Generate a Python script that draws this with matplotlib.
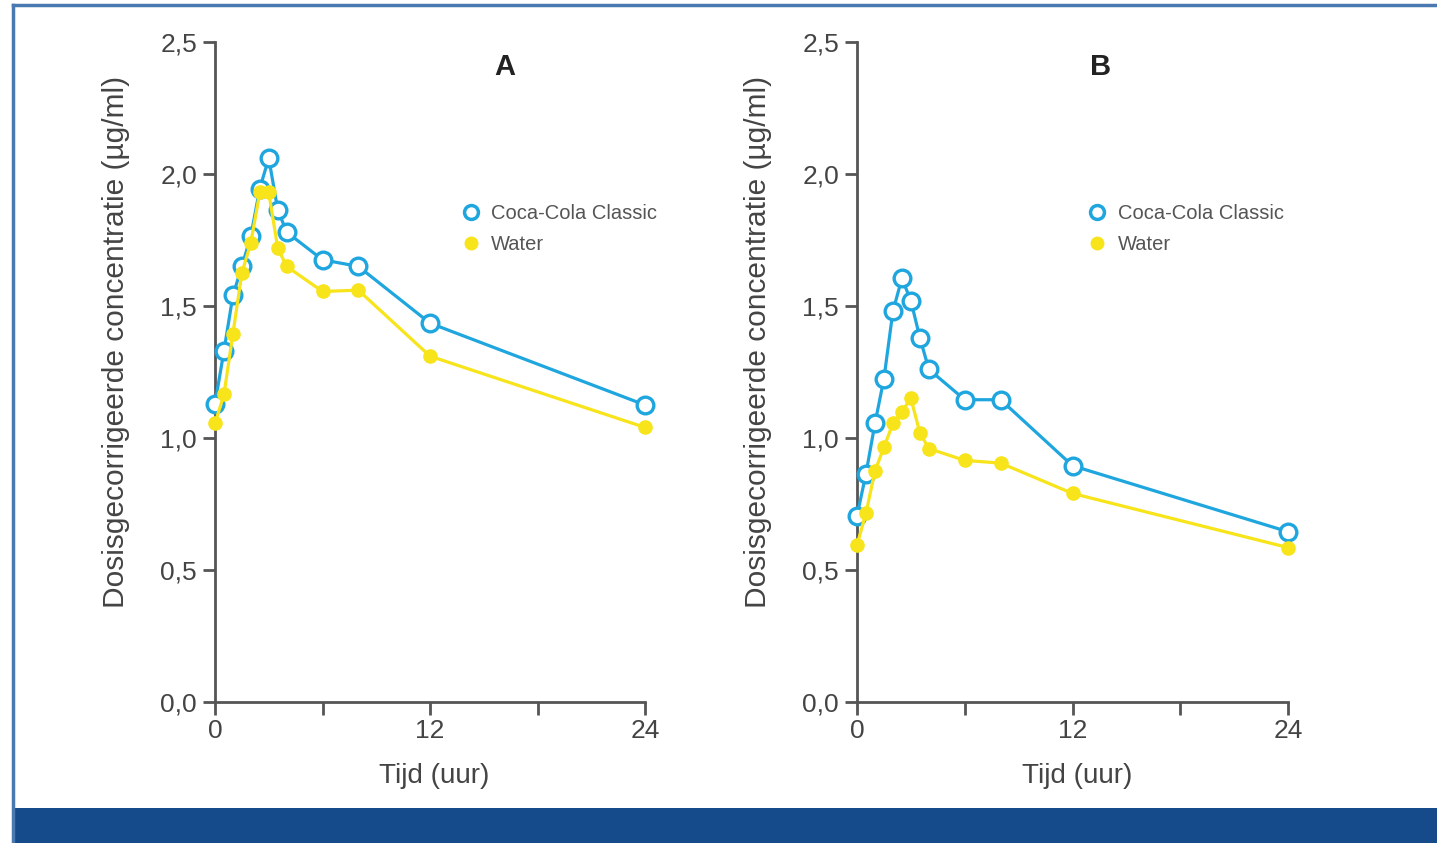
import numpy as np
import matplotlib.pyplot as plt
from matplotlib.patches import Rectangle
from matplotlib.lines import Line2D

plt.rcParams['font.family'] = ['Liberation Sans', 'DejaVu Sans']

# tijdstippen (uur)
tijd = [0, 0.5, 1, 1.5, 2, 2.5, 3, 3.5, 4, 6, 8, 12, 24]

# paneel A
cola_a = [1.13, 1.33, 1.54, 1.65, 1.765, 1.945, 2.06, 1.865, 1.78, 1.675, 1.65, 1.435, 1.125]
water_a = [1.055, 1.165, 1.395, 1.625, 1.74, 1.93, 1.93, 1.72, 1.65, 1.555, 1.56, 1.31, 1.04]

# paneel B
cola_b = [0.705, 0.865, 1.055, 1.225, 1.48, 1.605, 1.52, 1.38, 1.26, 1.145, 1.145, 0.895, 0.645]
water_b = [0.595, 0.715, 0.875, 0.965, 1.055, 1.1, 1.15, 1.02, 0.96, 0.915, 0.905, 0.79, 0.585]

yticks = [0, 0.5, 1.0, 1.5, 2.0, 2.5]
ytick_labels = ['0,0', '0,5', '1,0', '1,5', '2,0', '2,5']
xticks = [0, 6, 12, 18, 24]
xtick_labels = ['0', '', '12', '', '24']

blauw = '#1fa6de'
geel = '#f7e41a'
as_kleur = '#555555'
tekst = '#444444'

fig = plt.figure(figsize=(14.37, 8.43), dpi=100)

# kader
fig.add_artist(Line2D([13/1437, 1], [1 - 5/843, 1 - 5/843], color='#4a78b0', lw=2.5))
fig.add_artist(Line2D([13/1437, 13/1437], [0, 1 - 5/843], color='#4a78b0', lw=2.5))
fig.add_artist(Rectangle((13/1437, 0), 1, 35/843, color='#154b8a', lw=0))

leg_handles = [
    Line2D([], [], ls='none', marker='o', ms=10, mfc='white', mec=blauw, mew=2.5),
    Line2D([], [], ls='none', marker='o', ms=9, mfc=geel, mec=geel),
]


def paneel(ax, cola, water, titel, titel_x, leg_pos):
    ax.plot(tijd, cola, color=blauw, lw=2.3, marker='o', ms=12, mfc='white',
            mec=blauw, mew=2.4, clip_on=False, zorder=3)
    ax.plot(tijd, water, color=geel, lw=2.3, marker='o', ms=9.5, mfc=geel,
            mec=geel, clip_on=False, zorder=4)
    ax.set_xlim(0, 24)
    ax.set_ylim(0, 2.5)
    ax.set_xticks(xticks)
    ax.set_xticklabels(xtick_labels)
    ax.set_yticks(yticks)
    ax.set_yticklabels(ytick_labels)
    for s in ['top', 'right']:
        ax.spines[s].set_visible(False)
    for s in ['left', 'bottom']:
        ax.spines[s].set_color(as_kleur)
        ax.spines[s].set_linewidth(2)
    ax.tick_params(colors=as_kleur, labelcolor=tekst, width=2, length=9,
                   labelsize=19)
    ax.tick_params(axis='x', pad=3)
    ax.tick_params(axis='y', pad=4)
    ax.set_xlabel('Tijd (uur)', fontsize=20, color=tekst)
    ax.xaxis.set_label_coords(0.51, -0.093)
    ax.set_ylabel('Dosisgecorrigeerde concentratie (µg/ml)', fontsize=21.5,
                  color=tekst)
    ax.yaxis.set_label_coords(-0.197, 0.545)
    ax.text(titel_x, 0.962, titel, transform=ax.transAxes, fontsize=21,
            fontweight='bold', ha='center', va='center', color='#222222')
    ax.legend(leg_handles, ['Coca-Cola Classic', 'Water'], loc='upper left',
              bbox_to_anchor=leg_pos, frameon=False, fontsize=14.5,
              labelcolor='#555555', handlelength=0.8, handletextpad=0.6,
              labelspacing=0.62)


ax_a = fig.add_axes([215/1437, 1 - 702/843, 430/1437, 660/843])
ax_b = fig.add_axes([857/1437, 1 - 702/843, 431/1437, 660/843])
paneel(ax_a, cola_a, water_a, 'A', 0.674, (0.535, 0.782))
paneel(ax_b, cola_b, water_b, 'B', 0.564, (0.497, 0.782))

fig.savefig('out.png', dpi=100)
